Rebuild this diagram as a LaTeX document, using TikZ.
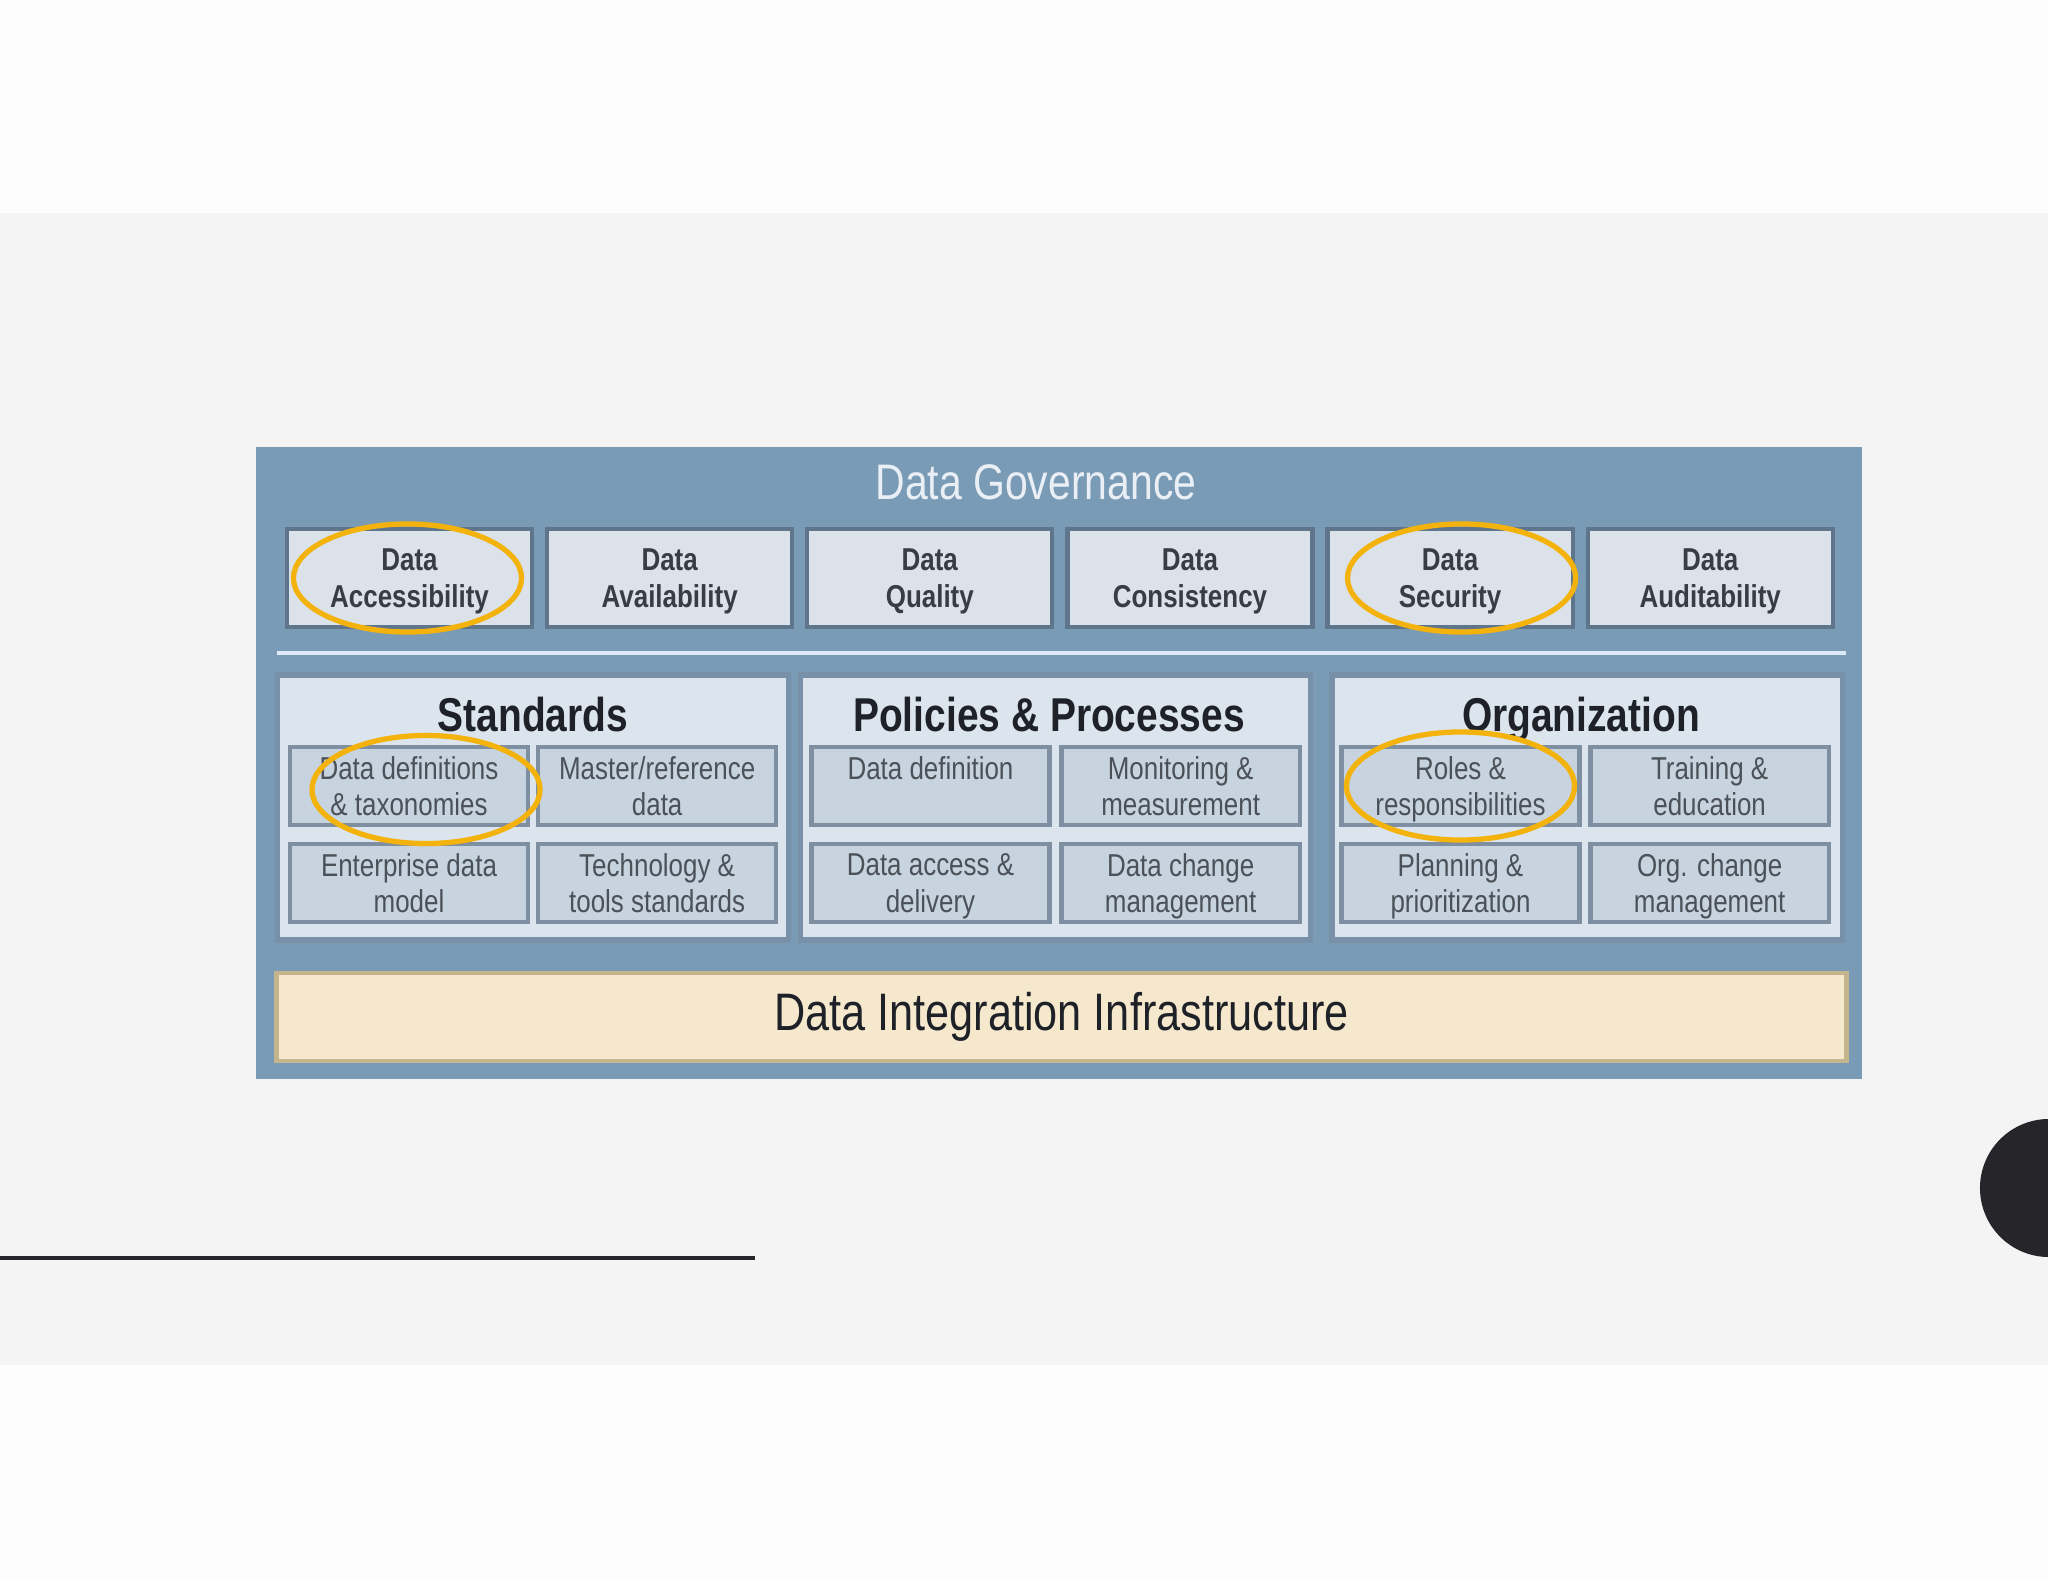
\documentclass[tikz,border=0pt]{standalone}
\usepackage{fontspec}
\setmainfont{Liberation Sans}
\newfontfamily\narrowfont[FakeStretch=0.82]{Liberation Sans}
\usetikzlibrary{positioning, shapes.geometric}
\definecolor{pagewhite}{HTML}{FDFDFD}
\definecolor{slidegrey}{HTML}{F4F4F5}
\definecolor{govblue}{HTML}{7A9BB5}
\definecolor{titlewhite}{HTML}{E9EFF5}
\definecolor{boxgrey}{HTML}{DCE2EA}
\definecolor{edgeblue}{HTML}{5F758C}
\definecolor{panelfill}{HTML}{DCE5EE}
\definecolor{panelline}{HTML}{7891A8}
\definecolor{itemfill}{HTML}{C7D3DF}
\definecolor{itemline}{HTML}{7D8FA1}
\definecolor{sandfill}{HTML}{F6E8CC}
\definecolor{sandline}{HTML}{C4B58C}
\definecolor{sepline}{HTML}{DCEBF7}
\definecolor{inkdark}{HTML}{1E2228}
\definecolor{inkgrey}{HTML}{373C45}
\definecolor{inkmid}{HTML}{4B5159}
\definecolor{marker}{HTML}{F3B20C}
\definecolor{ink}{HTML}{26262A}

\begin{document}
\begin{tikzpicture}[
  x=0.01cm, y=-0.01cm,
  font=\narrowfont,
  govbox/.style={draw=edgeblue, line width=1.2pt, fill=boxgrey, minimum width=2.45cm,
                 minimum height=0.98cm, inner sep=0pt, outer sep=0pt, align=center, text=inkgrey,
                 text depth=-1pt, font=\narrowfont\bfseries\fontsize{9}{10.5}\selectfont},
  panelbox/.style={draw=panelline, line width=1.5pt, fill=panelfill, minimum width=5.1cm,
                   minimum height=2.65cm, inner sep=0pt, outer sep=0pt},
  headtext/.style={anchor=base, inner sep=0pt, text=inkdark,
                   font=\narrowfont\bfseries\fontsize{13.5}{15}\selectfont},
  itembox/.style={draw=itemline, line width=1.2pt, fill=itemfill, minimum width=2.38cm,
                  minimum height=0.78cm, inner sep=0pt, outer sep=0pt, align=center, text=inkmid,
                  text depth=0pt, font=\narrowfont\fontsize{9}{10.5}\selectfont},
  hilite/.style={ellipse, draw=marker, line width=1.5pt, minimum width=2.28cm,
                 minimum height=1.08cm, inner sep=0pt},
  node distance=0.15cm]

% slide background
\fill[pagewhite] (0,0) rectangle (2048,1582);
\fill[slidegrey] (0,213) rectangle (2048,1365);
\useasboundingbox (0,0) rectangle (2048,1582);

% governance frame
\node[fill=govblue, minimum width=16.06cm, minimum height=6.32cm, inner sep=0pt] (gov) at (1059,763) {};
\node[anchor=base, inner sep=0pt, text=titlewhite, font=\narrowfont\fontsize{14.2}{16}\selectfont]
  (govT) at (1036,499) {Data Governance};

\node[govbox] (acc) at (409.5,578) {Data\\Accessibility};
\node[govbox, right=of acc] (avail) {Data\\Availability};
\node[govbox, right=of avail] (qual) {Data\\Quality};
\node[govbox, right=of qual] (cons) {Data\\Consistency};
\node[govbox, right=of cons] (sec) {Data\\Security};
\node[govbox, right=of sec] (aud) {Data\\Auditability};

\coordinate (sepL) at (277,653);
\coordinate (sepR) at (1846,653);
\draw[sepline, line width=1.1pt] (sepL) -- (sepR);

% three pillars
\node[panelbox] (std) at (533,807.5) {};
\node[panelbox] (pol) at (1055.5,807.5) {};
\node[panelbox] (org) at (1587,807.5) {};
\node[headtext] (stdT) at (533,731) {Standards};
\node[headtext] (polT) at (1049,731) {Policies \& Processes};
\node[headtext] (orgT) at (1581,731) {Organization};

\node[itembox] (defs) at (409,786) {Data definitions\\\& taxonomies};
\node[itembox, right=0.1cm of defs] (master) {Master/reference\\data};
\node[itembox, below=0.19cm of defs] (entm) {Enterprise data\\model};
\node[itembox, below=0.19cm of master] (tech) {Technology \&\\tools standards};

\node[itembox] (pdef) at (930.5,786) {Data definition\\\mbox{}};
\node[itembox, right=0.12cm of pdef] (mon) {Monitoring \&\\measurement};
\node[itembox, below=0.19cm of pdef] (acd) {Data access \&\\delivery};
\node[itembox, below=0.19cm of mon] (chg) {Data change\\management};

\node[itembox] (roles) at (1460.5,786) {Roles \&\\responsibilities};
\node[itembox, right=0.11cm of roles] (train) {Training \&\\education};
\node[itembox, below=0.19cm of roles] (plan) {Planning \&\\prioritization};
\node[itembox, below=0.19cm of train] (orgchg) {Org. change\\management};

% infrastructure bar
\node[draw=sandline, line width=1.2pt, fill=sandfill, minimum width=15.69cm, minimum height=0.88cm,
      inner sep=0pt, text=inkdark, font=\narrowfont\fontsize{15}{17}\selectfont]
  (dii) at (1061.5,1017) {Data Integration Infrastructure};

% highlights
\node[hilite] (hlAcc) at ([xshift=-0.02cm]acc.center) {};
\node[hilite] (hlSec) at ([xshift=0.115cm]sec.center) {};
\node[hilite] (hlDefs) at ([xshift=0.17cm, yshift=-0.035cm]defs.center) {};
\node[hilite] (hlRoles) at (roles.center) {};

% slide decoration
\coordinate (ruleL) at (0,1258);
\coordinate (ruleR) at (755,1258);
\draw[ink, line width=1.4pt] (ruleL) -- (ruleR);
\node[circle, fill=ink, minimum size=1.38cm, inner sep=0pt] (dot) at (2049,1188) {};
\end{tikzpicture}
\end{document}
